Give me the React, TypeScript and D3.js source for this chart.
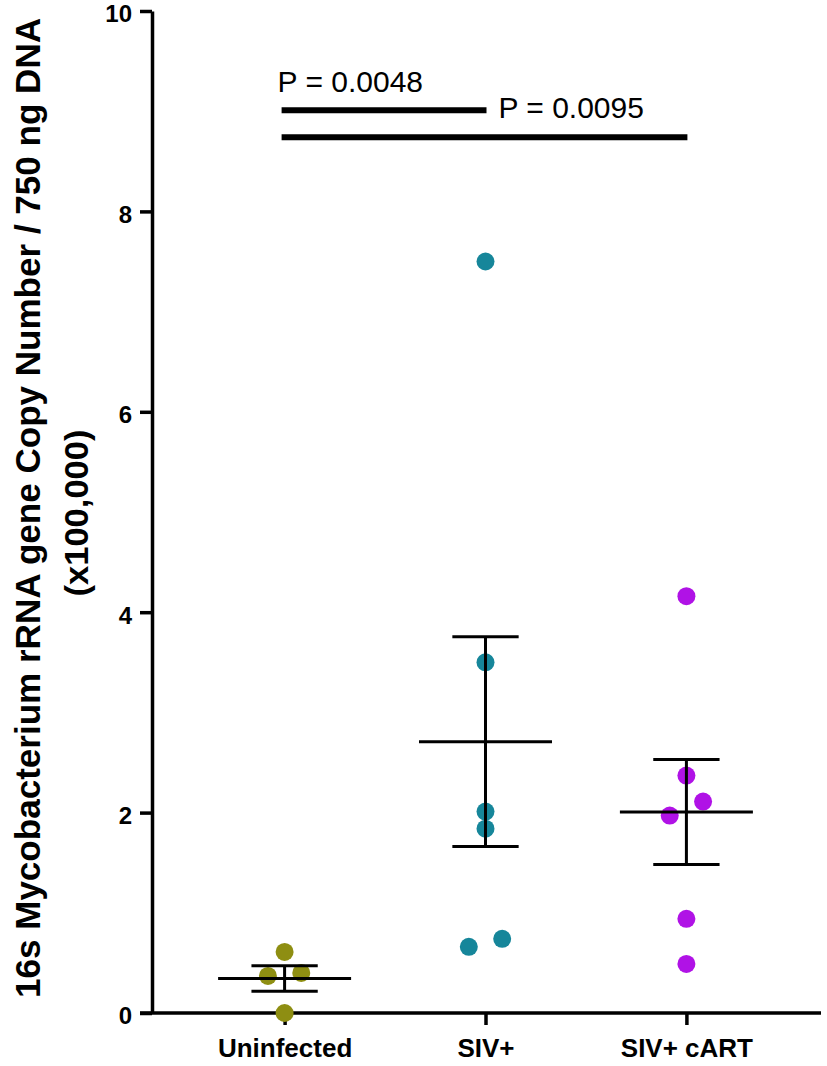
import React, { useEffect, useRef } from "react";
import * as d3 from "d3";

// groups and the values (x100,000 copies)
const groups = ["Uninfected", "SIV+", "SIV+ cART"];
const colors = ["#8e8e12", "#16869a", "#b012e6"];

const uninfected = [0.61, 0.37, 0.4, 0.0];
const sivPos = [7.5, 3.5, 2.01, 1.84, 0.66, 0.74];
const sivCart = [4.16, 2.37, 2.11, 1.97, 0.94, 0.49];

// horizontal jitter slot of each point (-1 left, 0 centre, 1 right)
const uninfectedSlot = [0, -1, 1, 0];
const sivPosSlot = [0, 0, 0, 0, -1, 1];
const sivCartSlot = [0, 0, 1, -1, 0, 0];

const yTicks = [0, 2, 4, 6, 8, 10];

const comparisons = [
  { from: "Uninfected", to: "SIV+", label: "P = 0.0048", level: 9.01 },
  { from: "Uninfected", to: "SIV+ cART", label: "P = 0.0095", level: 8.74 },
];

const series = [
  { values: uninfected, slots: uninfectedSlot },
  { values: sivPos, slots: sivPosSlot },
  { values: sivCart, slots: sivCartSlot },
];

const W = 827;
const H = 1066;
const FONT = "'Liberation Sans', Arial, Helvetica, sans-serif";

const Chart: React.FC = () => {
  const svgRef = useRef<SVGSVGElement>(null);

  useEffect(() => {
    if (!svgRef.current) return;
    const svg = d3.select(svgRef.current);
    svg.selectAll("*").remove();

    const left = 152;
    const right = 821;
    const top = 11;
    const bottom = 1013;

    const x = d3.scalePoint<string>().domain(groups).range([left, right - 2]).padding(0.66);
    const y = d3.scaleLinear().domain([0, 10]).range([bottom, top]);
    const step = x.step();

    // y axis
    const gy = svg.append("g")
      .attr("transform", `translate(${left},0)`)
      .call(d3.axisLeft(y).tickValues(yTicks).tickFormat(d3.format("d")).tickSize(12).tickSizeOuter(0).tickPadding(8));
    gy.select(".domain").attr("stroke", "#000").attr("stroke-width", 3.5);
    gy.selectAll(".tick line").attr("stroke", "#000").attr("stroke-width", 3.5);
    gy.selectAll(".tick text")
      .attr("fill", "#000")
      .attr("dy", "0.45em")
      .style("font-family", FONT)
      .style("font-size", "24px")
      .style("font-weight", "bold");

    // x axis
    const gx = svg.append("g")
      .attr("transform", `translate(0,${bottom})`)
      .call(d3.axisBottom(x).tickSize(12).tickSizeOuter(0).tickPadding(14));
    gx.select(".domain").attr("stroke", "#000").attr("stroke-width", 3.5)
      .attr("d", `M${left - 12},0H${right}`);
    gx.selectAll(".tick line").attr("stroke", "#000").attr("stroke-width", 3.5);
    gx.selectAll(".tick text")
      .attr("fill", "#000")
      .style("font-family", FONT)
      .style("font-size", "26px")
      .style("font-weight", "bold");

    // y label
    svg.append("text")
      .attr("transform", `translate(40,508) rotate(-90)`)
      .attr("text-anchor", "middle")
      .attr("textLength", 980)
      .attr("lengthAdjust", "spacingAndGlyphs")
      .style("font-family", FONT)
      .style("font-size", "35px")
      .style("font-weight", "bold")
      .text("16s Mycobacterium rRNA gene Copy Number / 750 ng DNA");
    svg.append("text")
      .attr("transform", `translate(88,513) rotate(-90)`)
      .attr("text-anchor", "middle")
      .attr("textLength", 167)
      .attr("lengthAdjust", "spacingAndGlyphs")
      .style("font-family", FONT)
      .style("font-size", "33px")
      .style("font-weight", "bold")
      .text("(x100,000)");

    // points, mean and SEM
    series.forEach((s, i) => {
      const cx = x(groups[i]) as number;
      const g = svg.append("g");
      const mean = d3.mean(s.values) as number;
      const sem = (d3.deviation(s.values) as number) / Math.sqrt(s.values.length);

      g.selectAll("circle")
        .data(s.values)
        .enter()
        .append("circle")
        .attr("cx", (_, j) => cx + s.slots[j] * step * 0.083)
        .attr("cy", d => y(d))
        .attr("r", 9)
        .attr("fill", colors[i]);

      const lines = g.append("g").attr("stroke", "#000").attr("stroke-width", 3);
      lines.append("line")
        .attr("x1", cx).attr("x2", cx)
        .attr("y1", y(mean - sem)).attr("y2", y(mean + sem));
      [mean - sem, mean + sem].forEach(v => {
        lines.append("line")
          .attr("x1", cx - step * 0.165).attr("x2", cx + step * 0.165)
          .attr("y1", y(v)).attr("y2", y(v));
      });
      lines.append("line")
        .attr("x1", cx - step * 0.331).attr("x2", cx + step * 0.331)
        .attr("y1", y(mean)).attr("y2", y(mean));
    });

    // significance bars
    comparisons.forEach((c, i) => {
      const x1 = (x(c.from) as number) - 3;
      const x2 = (x(c.to) as number) + 1;
      svg.append("line")
        .attr("x1", x1).attr("x2", x2)
        .attr("y1", y(c.level)).attr("y2", y(c.level))
        .attr("stroke", "#000")
        .attr("stroke-width", 6);
      const prevEnd = i > 0 ? (x(comparisons[i - 1].to) as number) + 13 : x1 - 4;
      svg.append("text")
        .attr("x", prevEnd)
        .attr("y", y(c.level) - (i > 0 ? 19 : 18))
        .style("font-family", FONT)
        .style("font-size", "30px")
        .text(c.label);
    });
  }, []);

  return <svg ref={svgRef} width={W} height={H} style={{ display: "block" }}></svg>;
};

export default function App() {
  return (
    <div style={{ position: "absolute", left: 0, top: 0, background: "#fff" }}>
      <Chart />
    </div>
  );
}
